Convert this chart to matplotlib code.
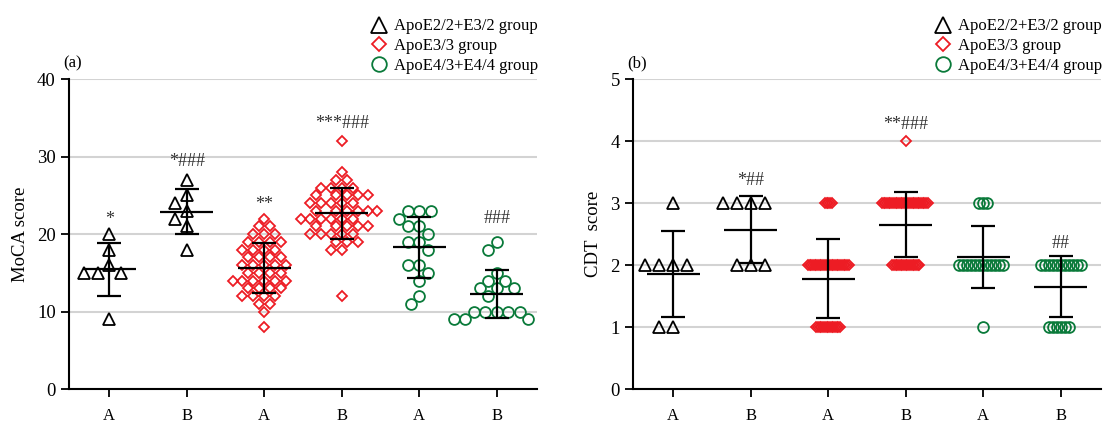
import matplotlib
matplotlib.use("Agg")
import matplotlib.pyplot as plt
import numpy as np
from matplotlib.lines import Line2D

plt.rcParams['font.family'] = ['Liberation Serif', 'DejaVu Serif']

# x categories (A/B for each genotype group)
tick_labels = ["A", "B", "A", "B", "A", "B"]
group_names = ["ApoE2/2+E3/2 group", "ApoE3/3 group", "ApoE4/3+E4/4 group"]

# MoCA scores (panel a)
moca_e2_a = [20, 18, 16, 15, 15, 15, 9]
moca_e2_b = [27, 25, 24, 23, 22, 21, 18]
moca_e3_a = [22, 21, 21, 20, 20, 20, 19, 19, 19, 19, 18, 18, 18, 18,
             17, 17, 17, 17, 16, 16, 16, 16, 16, 15, 15, 15, 15,
             14, 14, 14, 14, 14, 14, 13, 13, 13, 13, 12, 12, 12, 12,
             11, 11, 10, 8]
moca_e3_b = [32, 28, 27, 27, 26, 26, 26, 26, 25, 25, 25, 25, 25,
             24, 24, 24, 24, 24, 23, 23, 23, 23, 23, 23, 22, 22, 22, 22, 22, 22,
             21, 21, 21, 21, 21, 20, 20, 20, 20, 20, 19, 19, 19, 18, 18, 12]
moca_e4_a = [23, 23, 23, 22, 21, 21, 20, 19, 19, 18, 16, 16, 15, 14, 12, 11]
moca_e4_b = [19, 18, 15, 14, 14, 13, 13, 13, 12, 10, 10, 10, 10, 10, 9, 9, 9]

# CDT scores (panel b) as score levels and counts
cdt_levels = [4, 3, 2, 1]
cdt_e2_a = [0, 1, 4, 2]
cdt_e2_b = [0, 4, 3, 0]
cdt_e3_a = [0, 5, 25, 15]
cdt_e3_b = [1, 28, 17, 0]
cdt_e4_a = [0, 3, 12, 1]
cdt_e4_b = [0, 0, 11, 6]

# significance marks: (x index, y, text)
moca_marks = [(0, 21.9, "*"), (1, 29.3, "*###"), (2, 23.8, "**"),
              (3, 34.2, "***###"), (5, 22.0, "###")]
cdt_marks = [(1, 3.37, "*##"), (3, 4.27, "**###"), (5, 2.35, "##")]

colors = ["#000000", "#ed1c24", "#0a7a3a"]
markers = ["^", "D", "o"]
msizes = [8.5, 5.2, 7.8]

W, H = 1106, 423
fig = plt.figure(figsize=(W / 100, H / 100), dpi=100)
ax1 = fig.add_axes([69 / W, 34 / H, 468 / W, 310 / H])
ax2 = fig.add_axes([633 / W, 34 / H, 468 / W, 310 / H])


def swarm(vals, d, sx, sy):
    vals = np.asarray(vals, float)
    order = np.argsort(-vals, kind="stable")
    placed = []
    out = np.zeros(len(vals))
    for i in order:
        y = vals[i] * sy
        near = [(px, py) for px, py in placed if abs(py - y) < d]
        cands = [0.0]
        for px, py in near:
            dx = np.sqrt(d * d - (py - y) ** 2)
            cands += [px + dx, px - dx]
        cands.sort(key=lambda c: (round(abs(c), 6), c))
        best = 0.0
        for c in cands:
            if all((c - px) ** 2 + (y - py) ** 2 >= d * d - 1e-6 for px, py in near):
                best = c
                break
        placed.append((best, y))
        out[i] = best / sx
    return out


def draw_panel(ax, data, ylim, yticks, dists, ylabel, marks):
    ax.set_xlim(-0.52, 5.52)
    ax.set_ylim(*ylim)
    sx = 468 / (5.52 + 0.52)
    sy = 310 / (ylim[1] - ylim[0])
    for k, vals in enumerate(data):
        g = k // 2
        vals = np.asarray(vals, float)
        off = swarm(vals, dists[g], sx, sy)
        ax.plot(k + off, vals, ls="none", marker=markers[g], ms=msizes[g],
                mfc="none", mec=colors[g], mew=1.3, zorder=3)
        m = vals.mean()
        sd = vals.std(ddof=1)
        ax.hlines(m, k - 0.34, k + 0.34, color="k", lw=1.6, zorder=4)
        ax.vlines(k, m - sd, m + sd, color="k", lw=1.6, zorder=4)
        ax.hlines([m - sd, m + sd], k - 0.155, k + 0.155, color="k", lw=1.6, zorder=4)
    for xi, yi, t in marks:
        ax.text(xi, yi, t, ha="center", va="center", fontsize=13, color="#333333")
    ax.set_xticks(range(6))
    ax.set_xticklabels(tick_labels)
    ax.set_yticks(yticks)
    ax.set_ylabel(ylabel, fontsize=13.5, labelpad=6)
    ax.tick_params(axis="both", direction="out", length=6, width=1.3, labelsize=13.5)
    ax.tick_params(axis="x", labelsize=12, pad=8)
    for s in ["top", "right"]:
        ax.spines[s].set_visible(False)
    for s in ["left", "bottom"]:
        ax.spines[s].set_linewidth(1.5)
    ax.yaxis.grid(True, color="#d3d3d3", lw=1.5)
    ax.set_axisbelow(True)
    handles = [Line2D([], [], ls="none", marker=markers[g], ms=msizes[g] * 1.35,
                      mfc="none", mec=colors[g], mew=1.3) for g in range(3)]
    ax.legend(handles, group_names, loc="lower right", bbox_to_anchor=(1.02, 0.99),
              frameon=False, fontsize=12, handletextpad=0.3, labelspacing=0.22,
              borderaxespad=0.1, handlelength=1.2)


moca = [moca_e2_a, moca_e2_b, moca_e3_a, moca_e3_b, moca_e4_a, moca_e4_b]
cdt = [np.repeat(cdt_levels, c) for c in
       [cdt_e2_a, cdt_e2_b, cdt_e3_a, cdt_e3_b, cdt_e4_a, cdt_e4_b]]

draw_panel(ax1, moca, (0, 40), [0, 10, 20, 30, 40], [14, 9.5, 11.5], "MoCA score", moca_marks)
draw_panel(ax2, cdt, (0, 5), [0, 1, 2, 3, 4, 5], [14, 1.7, 4], "CDT  score", cdt_marks)

fig.text(63 / W, 1 - 63 / H, "(a)", fontsize=12, va="center")
fig.text(627 / W, 1 - 63 / H, "(b)", fontsize=12, va="center")

fig.savefig("out.png", dpi=100)
